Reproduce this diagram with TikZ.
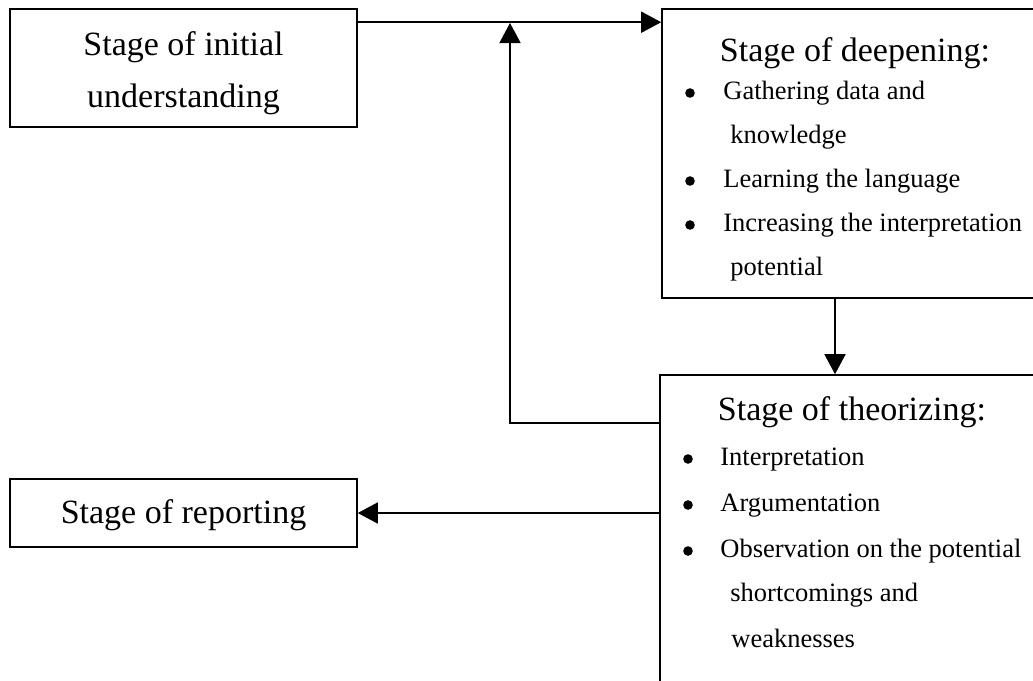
\documentclass[tikz,border=0pt]{standalone}
\usepackage{fontspec}
\setmainfont{Liberation Serif}
\usetikzlibrary{shapes,arrows,arrows.meta}
\usetikzlibrary{positioning}

\begin{document}
\begin{tikzpicture}[>={Triangle[length=10pt,width=10.5pt]}, x=0.5pt, y=-0.5pt]

    \tikzstyle{stagebox}=[draw, shape=rectangle, line width=0.8pt, inner sep=0pt, align=center, font=\fontsize{17}{26}\selectfont];
    \tikzstyle{heading}=[font=\fontsize{17}{26}\selectfont, inner sep=0pt, align=center];
    \tikzstyle{item}=[font=\fontsize{13.25}{22}\selectfont, anchor=mid west, inner sep=0pt];
    \tikzstyle{dot}=[shape=circle, fill, inner sep=0pt, minimum size=4.8pt];

    \useasboundingbox (0, 0) rectangle (1033, 680);

    \node [stagebox, minimum width=173.5pt, minimum height=59pt](init) at (183.5, 68){};
    \node [stagebox, minimum width=191.5pt, minimum height=144.5pt](deep) at (853.5, 153.5){};
    \node [stagebox, minimum width=192.5pt, minimum height=162.5pt](theo) at (852.5, 537.5){};
    \node [stagebox, minimum width=173.5pt, minimum height=34pt](report) at (183.5, 513){};

    \node [heading](inittext) at (183.5, 73){Stage of initial\\understanding};
    \node [heading](reporttext) at (183.5, 515){Stage of reporting};

    % deepening
    \node [heading](deephead) at (855, 53){Stage of deepening:};
    \node [dot](deepdot1) at (690, 93){};
    \node [item](deep1) at (723, 95){Gathering data and};
    \node [item](deep1b) at (730, 139){knowledge};
    \node [dot](deepdot2) at (690, 181){};
    \node [item](deep2) at (723, 183){Learning the language};
    \node [dot](deepdot3) at (690, 225){};
    \node [item](deep3) at (723, 227){Increasing the interpretation};
    \node [item](deep3b) at (730, 271){potential};

    % theorizing
    \node [heading](theohead) at (852, 412){Stage of theorizing:};
    \node [dot](theodot1) at (688, 459){};
    \node [item](theo1) at (720, 461){Interpretation};
    \node [dot](theodot2) at (688, 505){};
    \node [item](theo2) at (720, 507){Argumentation};
    \node [dot](theodot3) at (688, 551){};
    \node [item](theo3) at (720, 553){Observation on the potential};
    \node [item](theo3b) at (730, 597){shortcomings and};
    \node [item](theo3c) at (731, 643){weaknesses};

    \coordinate (join) at (510, 23);

    \draw [->, line width=0.8pt] ([yshift=-7pt]init.north east) to ([yshift=-7pt]deep.north west);
    \draw [->, line width=0.8pt] ([xshift=-9.25pt]deep.south) to ([xshift=-9.25pt]deep.south |- theo.north);
    \draw [->, line width=0.8pt] ([yshift=-24.5pt]theo.north west) -| (join);
    \draw [->, line width=0.8pt] (theo.west |- report.east) to (report.east);

\end{tikzpicture}
\end{document}
